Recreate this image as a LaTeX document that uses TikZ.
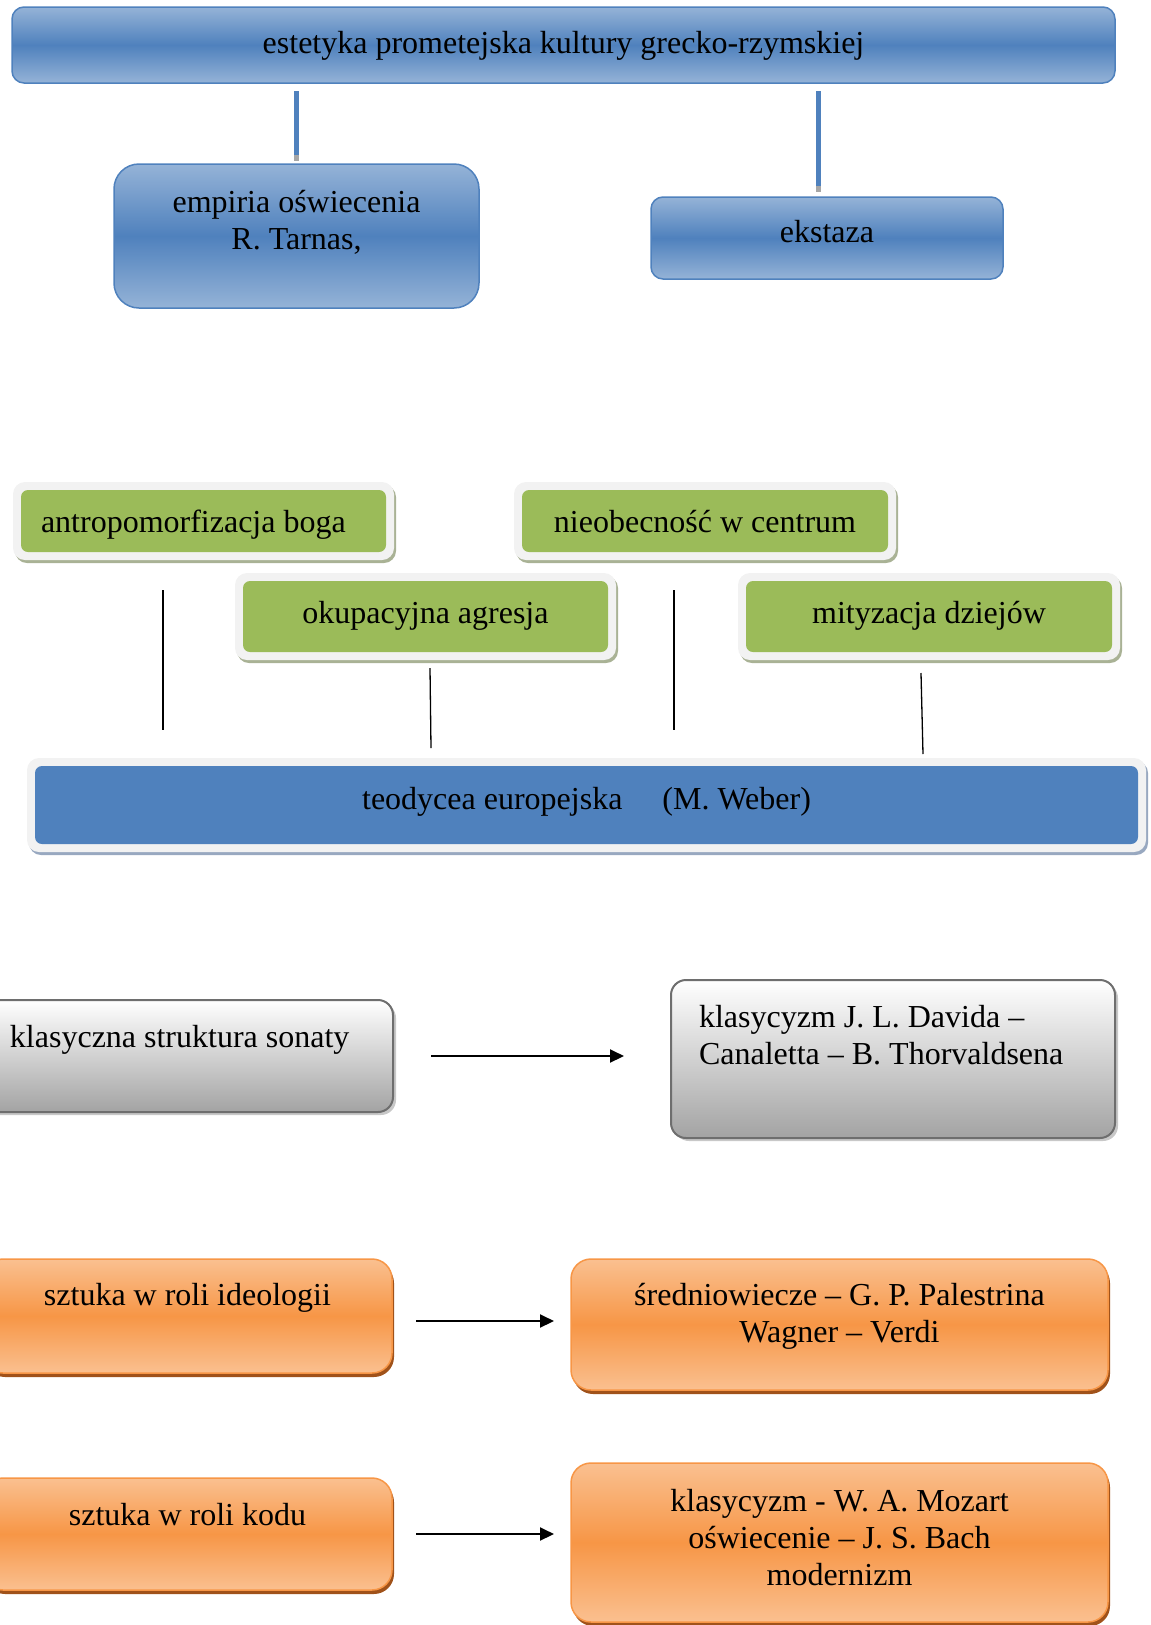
\documentclass[tikz,border=0pt]{standalone}
\usepackage{fontspec}
\setmainfont{Liberation Serif}
\usetikzlibrary{shadows,calc,arrows.meta}
\definecolor{bl}{HTML}{4F81BD}
\definecolor{bllt}{HTML}{95B3D7}
\definecolor{gr}{HTML}{9BBB59}
\definecolor{frm}{HTML}{F2F2F2}
\definecolor{grsh}{HTML}{A9B295}
\definecolor{blsh}{HTML}{98A8C0}
\definecolor{orc}{HTML}{F79646}
\definecolor{orlt}{HTML}{FAC090}
\definecolor{orsh}{HTML}{A0521A}
\definecolor{gyb}{HTML}{A3A3A3}
\definecolor{gyd}{HTML}{6E6E6E}
\definecolor{gysh}{HTML}{C8C8C8}
\newcommand\tbx[5]{\parbox[c][#2pt][t]{#1pt}{\vspace*{#3pt}#4\strut#5\par}}
\tikzset{
  bluebox/.style={draw=bl, line width=1.5pt, top color=bllt, bottom color=bllt, middle color=bl, rounded corners=#1},
  frame/.style={fill=frm, rounded corners=12pt, drop shadow={shadow xshift=2pt, shadow yshift=-3pt, fill=#1, opacity=1}},
  grbox/.style={fill=gr, rounded corners=7pt},
  tbox/.style={fill=bl, rounded corners=7pt},
  graybox/.style={draw=gyd, line width=2pt, top color=white, bottom color=gyb, rounded corners=15pt, drop shadow={shadow xshift=3pt, shadow yshift=-3pt, fill=gysh, opacity=1}},
  orbox/.style={draw=orc, line width=1.5pt, top color=orlt, bottom color=orlt, middle color=orc, rounded corners=20pt, drop shadow={shadow xshift=2pt, shadow yshift=-4pt, fill=orsh, opacity=1}},
  blueline/.style={draw=bl, line width=5pt},
  tipline/.style={draw=black!35, line width=5pt},
  thinline/.style={draw=black, line width=1.3pt},
  arrowst/.style={draw=black, line width=2pt, -{Triangle[length=14pt,width=13pt]}}
}
\begin{document}
\begin{tikzpicture}[x=1pt,y=-1pt, every node/.style={inner sep=0pt, outer sep=0pt, font=\fontsize{32pt}{37pt}\selectfont}]
\useasboundingbox (0,0) rectangle (1151,1625);
% top part
\node[bluebox=12pt] (top) at (563.5,45) {\tbx{1103}{76}{21}{\centering}{estetyka prometejska kultury grecko-rzymskiej}};
\node[bluebox=25pt] (emp) at (296.5,236) {\tbx{365}{144}{23}{\centering}{empiria oświecenia\\R. Tarnas,}};
\node[bluebox=12pt] (eks) at (827,238) {\tbx{352}{82}{20}{\centering}{ekstaza}};
\draw[blueline, shorten <=8pt, shorten >=3pt] (top.south -| emp.north) -- (emp.north);
\draw[tipline] ($(emp.north)+(0,-9)$) -- ($(emp.north)+(0,-3)$);
\coordinate (ekx) at ($(eks.north)+(-9,0)$);
\draw[blueline, shorten <=8pt, shorten >=5pt] (top.south -| ekx) -- (ekx);
\draw[tipline] ($(ekx)+(0,-11)$) -- ($(ekx)+(0,-5)$);
% green boxes
\node[frame=grsh, minimum width=381pt, minimum height=78pt] (antF) at (203.5,521) {};
\node[grbox] (ant) at (antF.center) {\tbx{365}{62}{17}{\raggedright\hspace*{20pt}}{antropomorfizacja boga}};
\node[frame=grsh, minimum width=382pt, minimum height=78pt] (nieF) at (705,521) {};
\node[grbox] (nie) at (nieF.center) {\tbx{366}{62}{17}{\centering}{nieobecność w centrum}};
\node[frame=grsh, minimum width=381pt, minimum height=87pt] (okF) at (425.5,616.5) {};
\node[grbox] (ok) at (okF.center) {\tbx{365}{71}{17}{\centering}{okupacyjna agresja}};
\node[frame=grsh, minimum width=382pt, minimum height=87pt] (miF) at (929,616.5) {};
\node[grbox] (mi) at (miF.center) {\tbx{366}{71}{17}{\centering}{mityzacja dziejów}};
\node[frame=blsh, minimum width=1119pt, minimum height=94pt] (teoF) at (586.5,805) {};
\node[tbox] (teo) at (teoF.center) {\tbx{1103}{78}{18}{\centering}{teodycea europejska\hspace{40pt}(M. Weber)}};
% thin connectors
\coordinate (c1) at ($(antF.south)+(-40.5,0)$);
\draw[thinline, shorten <=30pt, shorten >=28pt] (c1) -- (c1 |- teoF.north);
\coordinate (c2a) at ($(okF.south)+(4.5,8)$);
\coordinate (c2b) at ($(okF.south)+(5.5,0)$);
\coordinate (c2c) at ($(c2b |- teoF.north)+(0,-10)$);
\draw[thinline] (c2a) -- (c2c);
\coordinate (c3) at ($(nieF.south)+(-31,0)$);
\draw[thinline, shorten <=30pt, shorten >=28pt] (c3) -- (c3 |- teoF.north);
\coordinate (c4a) at ($(miF.south)+(-8,13)$);
\coordinate (c4b) at ($(miF.south)+(-6,0)$);
\coordinate (c4c) at ($(c4b |- teoF.north)+(0,-4)$);
\draw[thinline] (c4a) -- (c4c);
% gray boxes
\node[graybox] (ks) at (186.5,1056) {\tbx{413}{112}{22}{\raggedright\hspace*{30pt}}{klasyczna struktura sonaty}};
\node[graybox] (kd) at (893,1059) {\tbx{444}{158}{22}{\raggedright\leftskip=28pt\relax}{klasycyzm J. L. Davida –\\Canaletta – B. Thorvaldsena}};
\draw[arrowst, shorten <=38pt, shorten >=47pt] (ks.east) -- (kd.west |- ks.east);
% orange boxes
\node[orbox] (sl) at (187.5,1316) {\tbx{409}{114}{21}{\centering}{sztuka w roli ideologii}};
\node[orbox] (sr) at (839.5,1324.5) {\tbx{537}{131}{21}{\centering}{średniowiecze – G. P. Palestrina\\Wagner – Verdi}};
\coordinate (a2) at ($(sl.east)+(0,5)$);
\draw[arrowst, shorten <=24pt, shorten >=17pt] (a2) -- (sr.west |- a2);
\node[orbox] (sk) at (187.5,1534) {\tbx{409}{112}{22}{\centering}{sztuka w roli kodu}};
\node[orbox] (sm) at (839.5,1542.5) {\tbx{537}{159}{23}{\centering}{klasycyzm - W. A. Mozart\\oświecenie – J. S. Bach\\modernizm}};
\draw[arrowst, shorten <=24pt, shorten >=17pt] (sk.east) -- (sm.west |- sk.east);
\end{tikzpicture}
\end{document}
